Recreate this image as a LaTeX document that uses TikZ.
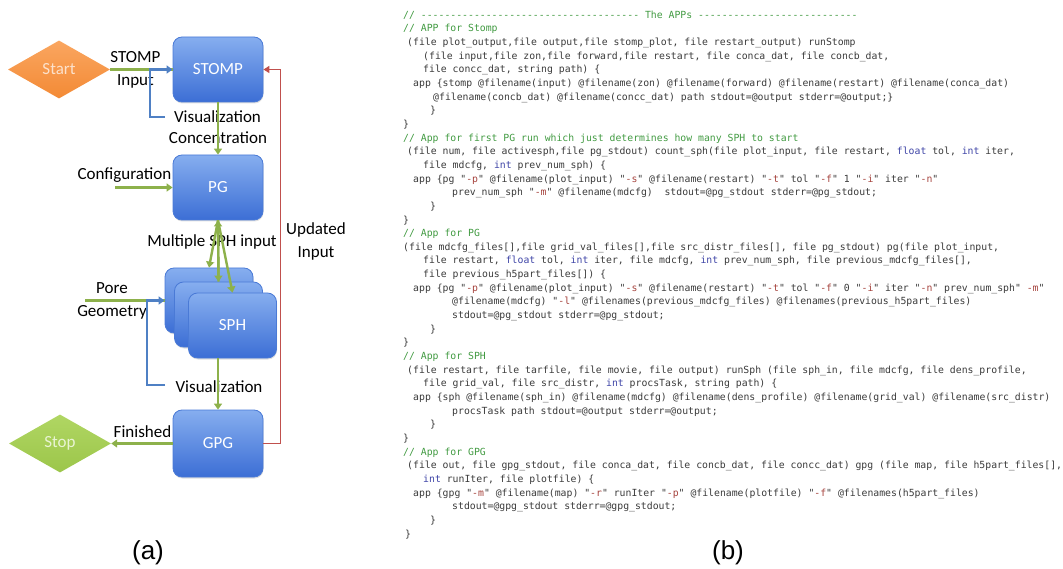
\documentclass[tikz,border=0pt]{standalone}
\usepackage{fontspec}
\setmainfont{Carlito}
\setmonofont{DejaVu Sans Mono}
\newfontfamily\capfont{Liberation Sans}
\usepackage{tikz}
\usetikzlibrary{arrows.meta}
\usetikzlibrary{shapes.geometric,shadows}

\definecolor{boxtop}{HTML}{86AEEF}
\definecolor{boxbot}{HTML}{3C6ED5}
\definecolor{boxedge}{HTML}{4A7AD6}
\definecolor{starttop}{HTML}{FAA660}
\definecolor{startbot}{HTML}{F38A35}
\definecolor{starttxt}{HTML}{FCE1CB}
\definecolor{stoptop}{HTML}{B0D663}
\definecolor{stopbot}{HTML}{9CC64A}
\definecolor{stoptxt}{HTML}{E9F4D3}
\definecolor{flowgreen}{HTML}{8DB14B}
\definecolor{loopblue}{HTML}{4F80C4}
\definecolor{backred}{HTML}{C0504D}
\definecolor{codegray}{HTML}{3A3A3A}
\definecolor{codegreen}{HTML}{419A41}
\definecolor{codeblue}{HTML}{3E44A6}
\definecolor{codered}{HTML}{A5423C}

\newcommand\cmt[1]{\textcolor{codegreen}{#1}}
\newcommand\kwd[1]{\textcolor{codeblue}{#1}}
\newcommand\strq[1]{"\textcolor{codered}{#1}"}
\newcommand\codeline[3]{\node[codetxt] (cl#1) at ({403+#2},{18.3+13.65*#1}) {#3};}

\tikzset{%
	app/.style={shape=rectangle,rounded corners=9pt,minimum width=90pt,minimum height=65pt,top color=boxtop,bottom color=boxbot,draw=boxedge,thick,text=white,font=\fontsize{17}{20}\selectfont,drop shadow={opacity=0.25,shadow xshift=0.5pt,shadow yshift=-1.5pt}},
	ends/.style={shape=diamond,inner sep=0pt,minimum width=102pt,minimum height=58pt,font=\fontsize{17}{20}\selectfont},
	lbl/.style={font=\fontsize{17}{23}\selectfont,align=center,inner sep=0pt},
	greenline/.style={draw=flowgreen,line width=2.4pt},
	flow/.style={greenline,-{Triangle[length=6pt,width=8pt]}},
	vizloop/.style={draw=loopblue,line width=2.2pt,-{Triangle[length=6pt,width=8pt]}},
	backloop/.style={draw=backred,line width=1.8pt,-{Triangle[length=6pt,width=7pt]}},
	codetxt/.style={anchor=base west,inner sep=0pt,text=codegray,font=\ttfamily\fontsize{9.8}{12}\selectfont},
}

\begin{document}
\begin{tikzpicture}[x=1pt,y=-1pt]
	\useasboundingbox (0,0) rectangle (1063,569);

	%BLOKI
	\node[ends,top color=starttop,bottom color=startbot,text=starttxt] (start) at (59,69.5) {Start};
	\node[app] (stomp) at (218,69.5) {STOMP};
	\node[app] (pg) at (218,187.5) {PG};
	\node[app,minimum width=88pt] (sph1) at (209,300.5) {}; %zadnji
	\node[app,minimum width=88pt] (sph2) at (218.5,314.5) {};
	\node[app,minimum width=88pt] (sph) at (232.5,325.5) {SPH}; %sprednji
	\node[app,minimum height=67pt] (gpg) at (218,443.5) {GPG};
	\node[ends,top color=stoptop,bottom color=stopbot,text=stoptxt] (stop) at (60,443.5) {Stop};

	%OZNAKE
	\node[lbl] (stompin) at (135.5,70) {STOMP\\Input};
	\node[lbl] (vis1) at (217.5,117) {Visualization};
	\node[lbl] (conc) at (218,138) {Concentration};
	\node[lbl] (config) at (124.5,175) {Configuration};
	\node[lbl] (multi) at (212,242) {Multiple SPH input};
	\node[lbl] (upd) at (316,241) {Updated\\Input};
	\node[lbl] (pore) at (112,301) {Pore\\Geometry};
	\node[lbl] (vis2) at (219,387) {Visualization};
	\node[lbl] (fin) at (142.5,432) {Finished};

	\coordinate (cfgin) at (115,187.5);
	\coordinate (porein) at (85,300.5);
	\coordinate (vis1end) at (165,117);
	\coordinate (vis2end) at (165,385);

	%PUSCICE
	\draw[greenline] (start.east) -- (stomp.west);
	\draw[vizloop] (vis1end) -| ([xshift=-23pt]stomp.west) -- (stomp.west); %vizualizacija STOMP
	\draw[flow] (stomp.south) -- (pg.north);
	\draw[flow] (cfgin) -- (pg.west);
	\draw[flow] (pg.south) -- (sph1.north);
	\draw[flow] (pg.south) -- (sph2.north);
	\draw[flow] (pg.south) -- (sph.north);
	\draw[flow] (sph2.north) -- (pg.south); %nazaj v PG
	\draw[greenline] (porein) -- (sph1.west);
	\draw[vizloop] (vis2end) -| ([xshift=-18pt]sph1.west) -- (sph1.west); %vizualizacija SPH
	\draw[flow] (sph.south -| gpg.north) -- (gpg.north);
	\draw[flow] (gpg.west) -- (stop.east);
	\draw[backloop] (gpg.east) -| ([xshift=17pt]stomp.east) -- (stomp.east); %updated input

	%KODA
	\codeline{0}{0}{\cmt{// ------------------------------------- The APPs ---------------------------}}
	\codeline{1}{0}{\cmt{// APP for Stomp}}
	\codeline{2}{4}{(file plot\_output,file output,file stomp\_plot, file restart\_output) runStomp}
	\codeline{3}{20}{(file input,file zon,file forward,file restart, file conca\_dat, file concb\_dat,}
	\codeline{4}{20}{file concc\_dat, string path) \{}
	\codeline{5}{10}{app \{stomp @filename(input) @filename(zon) @filename(forward) @filename(restart) @filename(conca\_dat)}
	\codeline{6}{30}{@filename(concb\_dat) @filename(concc\_dat) path stdout=@output stderr=@output;\}}
	\codeline{7}{27}{\}}
	\codeline{8}{0}{\}}
	\codeline{9}{0}{\cmt{// App for first PG run which just determines how many SPH to start}}
	\codeline{10}{4}{(file num, file activesph,file pg\_stdout) count\_sph(file plot\_input, file restart, \kwd{float} tol, \kwd{int} iter,}
	\codeline{11}{20}{file mdcfg, \kwd{int} prev\_num\_sph) \{}
	\codeline{12}{10}{app \{pg \strq{-p} @filename(plot\_input) \strq{-s} @filename(restart) \strq{-t} tol \strq{-f} 1 \strq{-i} iter \strq{-n}}
	\codeline{13}{49}{prev\_num\_sph \strq{-m} @filename(mdcfg)\ \ stdout=@pg\_stdout stderr=@pg\_stdout;}
	\codeline{14}{27}{\}}
	\codeline{15}{0}{\}}
	\codeline{16}{0}{\cmt{// App for PG}}
	\codeline{17}{0}{(file mdcfg\_files[],file grid\_val\_files[],file src\_distr\_files[], file pg\_stdout) pg(file plot\_input,}
	\codeline{18}{20}{file restart, \kwd{float} tol, \kwd{int} iter, file mdcfg, \kwd{int} prev\_num\_sph, file previous\_mdcfg\_files[],}
	\codeline{19}{20}{file previous\_h5part\_files[]) \{}
	\codeline{20}{10}{app \{pg \strq{-p} @filename(plot\_input) \strq{-s} @filename(restart) \strq{-t} tol \strq{-f} 0 \strq{-i} iter \strq{-n} prev\_num\_sph" \textcolor{codered}{-m}"}
	\codeline{21}{49}{@filename(mdcfg) \strq{-l} @filenames(previous\_mdcfg\_files) @filenames(previous\_h5part\_files)}
	\codeline{22}{49}{stdout=@pg\_stdout stderr=@pg\_stdout;}
	\codeline{23}{27}{\}}
	\codeline{24}{0}{\}}
	\codeline{25}{0}{\cmt{// App for SPH}}
	\codeline{26}{4}{(file restart, file tarfile, file movie, file output) runSph (file sph\_in, file mdcfg, file dens\_profile,}
	\codeline{27}{20}{file grid\_val, file src\_distr, \kwd{int} procsTask, string path) \{}
	\codeline{28}{10}{app \{sph @filename(sph\_in) @filename(mdcfg) @filename(dens\_profile) @filename(grid\_val) @filename(src\_distr)}
	\codeline{29}{49}{procsTask path stdout=@output stderr=@output;}
	\codeline{30}{27}{\}}
	\codeline{31}{0}{\}}
	\codeline{32}{0}{\cmt{// App for GPG}}
	\codeline{33}{4}{(file out, file gpg\_stdout, file conca\_dat, file concb\_dat, file concc\_dat) gpg (file map, file h5part\_files[],}
	\codeline{34}{20}{\kwd{int} runIter, file plotfile) \{}
	\codeline{35}{10}{app \{gpg \strq{-m} @filename(map) \strq{-r} runIter \strq{-p} @filename(plotfile) \strq{-f} @filenames(h5part\_files)}
	\codeline{36}{49}{stdout=@gpg\_stdout stderr=@gpg\_stdout;}
	\codeline{37}{27}{\}}
	\codeline{38}{2}{\}}

	%PODNAPISI
	\node[font=\capfont\fontsize{26}{30}\selectfont] (capa) at (148,553) {(a)};
	\node[font=\capfont\fontsize{26}{30}\selectfont] (capb) at (728,553) {(b)};
\end{tikzpicture}
\end{document}
